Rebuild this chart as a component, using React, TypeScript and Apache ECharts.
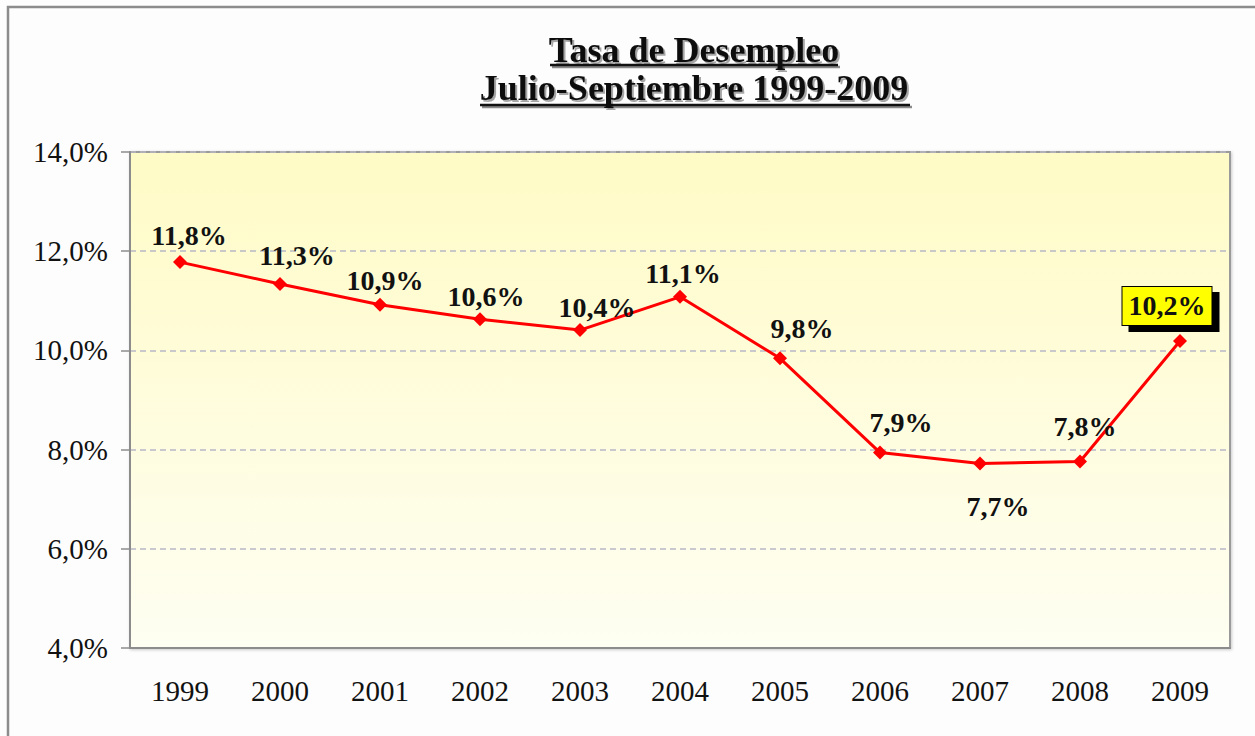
import React, { useEffect, useRef } from "react";
import * as echarts from "echarts";

const YEARS = ["1999", "2000", "2001", "2002", "2003", "2004", "2005", "2006", "2007", "2008", "2009"];
const RATES = [11.78, 11.34, 10.92, 10.63, 10.41, 11.08, 9.84, 7.94, 7.72, 7.76, 10.19];
const Y_MIN = 4;
const Y_MAX = 14;
const Y_INTERVAL = 2;
const TITLE_LINES = ["Tasa de Desempleo", "Julio-Septiembre 1999-2009"];
const HIGHLIGHT_INDEX = 10;
// layout: label centre offsets relative to each point
const LABEL_OFFSETS = [
  [9, -27], [17, -28], [5, -24], [6, -23], [17, -23], [3, -23],
  [22, -30], [21, -30], [18, 43], [5, -35], [-13, -35],
];

const SERIF = '"Liberation Serif", "Times New Roman", "DejaVu Serif", serif';
const fmt = (v: number) => v.toFixed(1).replace(".", ",") + "%";

export default function App() {
  const ref = useRef<HTMLDivElement>(null);
  useEffect(() => {
    if (!ref.current) return;
    const chart = echarts.init(ref.current, null, { renderer: "svg" });
    const data = RATES.map((v, i) => {
      const hl = i === HIGHLIGHT_INDEX;
      return {
        value: v,
        label: {
          offset: LABEL_OFFSETS[i],
          ...(hl
            ? {
                backgroundColor: "#FFFF00",
                borderColor: "#000",
                borderWidth: 1,
                padding: [6, 6, 4, 6],
                shadowColor: "#000",
                shadowOffsetX: 7,
                shadowOffsetY: 6,
                shadowBlur: 0,
              }
            : {}),
        },
      };
    });
    const titleGraphics: any[] = [];
    const titleY = [50, 88];
    const underlineY = [65, 105];
    const underlineX = [
      [550, 838],
      [480, 910],
    ];
    TITLE_LINES.forEach((t, i) => {
      titleGraphics.push({
        type: "line",
        silent: true,
        shape: { x1: underlineX[i][0] + 2, y1: underlineY[i] + 2, x2: underlineX[i][1] + 2, y2: underlineY[i] + 2 },
        style: { stroke: "#8a8a8a", lineWidth: 2.5 },
        z: 10,
      });
      titleGraphics.push({
        type: "line",
        silent: true,
        shape: { x1: underlineX[i][0], y1: underlineY[i], x2: underlineX[i][1], y2: underlineY[i] },
        style: { stroke: "#111", lineWidth: 2.5 },
        z: 11,
      });
      titleGraphics.push({
        type: "text",
        silent: true,
        x: 694,
        y: titleY[i],
        style: {
          text: t,
          font: `bold 36px ${SERIF}`,
          fill: "#111",
          align: "center",
          verticalAlign: "middle",
          textShadowColor: "rgba(0,0,0,0.35)",
          textShadowOffsetX: 2,
          textShadowOffsetY: 2,
          textShadowBlur: 1,
        },
        z: 12,
      });
    });

    chart.setOption({
      animation: false,
      backgroundColor: "#fdfdfd",
      graphic: [
        {
          type: "rect",
          silent: true,
          shape: { x: 8, y: 7, width: 1320, height: 800 },
          style: { fill: "none", stroke: "#8c8c8c", lineWidth: 2.5 },
          z: -1,
        },
        ...titleGraphics,
      ],
      grid: {
        left: 130,
        right: 25,
        top: 152,
        bottom: 88,
        show: true,
        borderColor: "#9a9a9a",
        borderWidth: 2,
        backgroundColor: new echarts.graphic.LinearGradient(0, 0, 0, 1, [
          { offset: 0, color: "#FFFBC6" },
          { offset: 1, color: "#FEFEF2" },
        ]),
        shadowColor: "rgba(0,0,0,0.2)",
        shadowBlur: 3,
        shadowOffsetX: 1,
        shadowOffsetY: 1,
      },
      xAxis: {
        type: "category",
        data: YEARS,
        boundaryGap: true,
        axisLine: { show: true, lineStyle: { color: "#8c8c8c", width: 2 } },
        axisTick: { show: false },
        axisLabel: {
          color: "#111",
          fontFamily: SERIF,
          fontSize: 29,
          margin: 28,
        },
        splitLine: { show: false },
      },
      yAxis: {
        type: "value",
        min: Y_MIN,
        max: Y_MAX,
        interval: Y_INTERVAL,
        axisLine: { show: true, lineStyle: { color: "#8c8c8c", width: 2 } },
        axisTick: { show: true, length: 9, lineStyle: { color: "#8c8c8c", width: 1.5 } },
        axisLabel: {
          color: "#111",
          fontFamily: SERIF,
          fontSize: 29,
          margin: 22,
          formatter: (v: number) => fmt(v),
        },
        splitLine: {
          show: true,
          lineStyle: { color: "#b8b8c6", width: 1.5, type: [6, 4] },
        },
      },
      series: [
        {
          type: "line",
          data,
          symbol: "diamond",
          symbolSize: 14,
          lineStyle: { color: "#FF0000", width: 3 },
          itemStyle: { color: "#FF0000" },
          label: {
            show: true,
            position: "inside",
            fontFamily: SERIF,
            fontWeight: "bold",
            fontSize: 28,
            color: "#111",
            formatter: (p: any) => fmt(p.value),
          },
          z: 5,
        },
      ],
    });
    return () => chart.dispose();
  }, []);
  return (
    <div
      ref={ref}
      style={{ position: "absolute", left: 0, top: 0, width: 1255, height: 736 }}
    />
  );
}
